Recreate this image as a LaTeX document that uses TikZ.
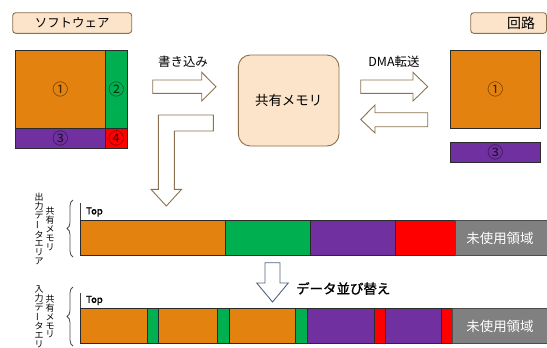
\documentclass[tikz,border=0pt]{standalone}
\usepackage{fontspec}
\setmainfont{Noto Sans CJK JP}
\newfontfamily\cjkbold{Noto Sans CJK JP}[FakeBold=1.2]
\usetikzlibrary{decorations.pathreplacing}
\definecolor{orng}{HTML}{E3820F}
\definecolor{grn}{HTML}{00B050}
\definecolor{prpl}{HTML}{7030A0}
\definecolor{rd}{HTML}{FF0000}
\definecolor{gry}{HTML}{808080}
\definecolor{peach}{HTML}{FCE4CA}
\definecolor{brn}{HTML}{8C6E4A}
\definecolor{arrbrn}{HTML}{8B7352}
\definecolor{arrblu}{HTML}{52657F}
\definecolor{edge}{HTML}{2A2A2A}
\tikzset{
  blk/.style={draw=edge, line width=0.9bp},
  lbl/.style={draw=brn, fill=peach, line width=0.9bp, rounded corners=3bp},
  bigarrow/.style={draw=arrbrn, fill=white, line width=0.9bp},
  num/.style={font=\fontsize{16}{17}\selectfont, text=black, text opacity=0.7, inner sep=0},
  txt/.style={font=\fontsize{12.5}{14}\selectfont, inner sep=0},
  vtxt/.style={font=\fontsize{9}{9}\selectfont, align=center, inner sep=0},
  toplbl/.style={font=\cjkbold\fontsize{9.5}{10}\selectfont, anchor=west, inner sep=0},
  unused/.style={font=\fontsize{13.5}{15}\selectfont, text=white, inner sep=0},
  brc/.style={decorate, decoration={brace, amplitude=6bp}, draw=black!70, line width=0.8bp}
}
\newcommand{\chouon}{\rotatebox[origin=c]{90}{ー}}
\begin{document}
\begin{tikzpicture}[x=1bp,y=-1bp]
\useasboundingbox (0,0) rectangle (547,347);
% labels
\draw[lbl] (12.7,12.7) rectangle (131.7,33.3);
\node[txt] (sw) at (72.2,23) {ソフトウェア};
\draw[lbl] (470.7,12.7) rectangle (546.5,33.3);
\node[txt, font=\fontsize{14}{15}\selectfont] (hw) at (521,23) {回路};
% software memory block
\draw[blk, fill=orng] (15.7,50) rectangle (105,128);
\draw[blk, fill=grn] (105,50) rectangle (127.7,128);
\draw[blk, fill=prpl] (15.7,128) rectangle (105,148.3);
\draw[blk, fill=rd] (105,128) rectangle (127.7,148.3);
\node[num] (s1) at (60.3,89) {①};
\node[num] (s2) at (116.3,89) {②};
\node[num] (s3) at (60.3,138.2) {③};
\node[num] (s4) at (116.3,138.2) {④};
% circuit memory block
\draw[blk, fill=orng] (450,50) rectangle (540.7,128.3);
\draw[blk, fill=prpl] (450,142.3) rectangle (540.7,162.7);
\node[num] (c1) at (495.3,89) {①};
\node[num] (c3) at (495.3,152.5) {③};
% shared memory
\draw[lbl, rounded corners=12bp, fill=peach] (238.3,55) rectangle (339,146);
\node[txt, font=\fontsize{13.5}{15}\selectfont] (sm) at (288.7,100.5) {共有メモリ};
% write arrow
\node[txt] (wr) at (183,62) {書き込み};
\draw[bigarrow] (152.7,80) -- (201.7,80) -- (201.7,72.3) -- (216,86.7) -- (201.7,101) -- (201.7,93.3) -- (152.7,93.3) -- cycle;
% DMA arrows
\node[txt] (dma) at (394,62) {DMA転送};
\draw[bigarrow] (360.7,80) -- (413,80) -- (413,72.3) -- (427.7,86.7) -- (413,101) -- (413,93.3) -- (360.7,93.3) -- cycle;
\draw[bigarrow] (360.7,119.5) -- (375,105) -- (375,112.7) -- (427.7,112.7) -- (427.7,126.7) -- (375,126.7) -- (375,133) -- cycle;
% L-shaped arrow
\draw[bigarrow] (158.3,115) -- (213.3,115) -- (213.3,131) -- (174.3,131) -- (174.3,189.3) -- (181.6,189.3) -- (166.3,206) -- (151,189.3) -- (158.3,189.3) -- cycle;
% output bar
\draw[line width=0.9bp, draw=black!75] (80,203) -- (80,255);
\node[toplbl] (t1) at (86,212) {Top};
\draw[blk, fill=orng] (80,220.7) rectangle (225,255);
\draw[blk, fill=grn] (225,220.7) rectangle (310,255);
\draw[blk, fill=prpl] (310,220.7) rectangle (395,255);
\draw[blk, fill=rd] (395,220.7) rectangle (455,255);
\draw[blk, draw=black!70, fill=gry] (455,220.7) rectangle (549,255);
\node[unused] (u1) at (500,238) {未使用領域};
\draw[brc] (73,257) -- (73,200);
\node[vtxt] (v1) at (39,229) {出\\力\\デ\\\chouon\\タ\\エ\\リ\\ア};
\node[vtxt] (v2) at (50,229) {共\\有\\メ\\モ\\リ};
% sort arrow
\draw[draw=arrblu, fill=white, line width=0.9bp] (265,262.7) -- (280,262.7) -- (280,283) -- (288.3,283) -- (272.5,302) -- (256.7,283) -- (265,283) -- cycle;
\node[font=\cjkbold\fontsize{13.5}{15}\selectfont, anchor=west, inner sep=0] (sort) at (296,288.5) {データ並び替え};
% input bar
\draw[line width=0.9bp, draw=black!75] (80,293) -- (80,343.3);
\node[toplbl] (t2) at (86,300.5) {Top};
\draw[blk, fill=orng] (80,308.3) rectangle (147.3,343.3);
\draw[blk, fill=grn] (147.3,308.3) rectangle (158.3,343.3);
\draw[blk, fill=orng] (158.3,308.3) rectangle (217.3,343.3);
\draw[blk, fill=grn] (217.3,308.3) rectangle (229,343.3);
\draw[blk, fill=orng] (229,308.3) rectangle (295.7,343.3);
\draw[blk, fill=grn] (295.7,308.3) rectangle (307.3,343.3);
\draw[blk, fill=prpl] (307.3,308.3) rectangle (374.7,343.3);
\draw[blk, fill=rd] (374.7,308.3) rectangle (385.3,343.3);
\draw[blk, fill=prpl] (385.3,308.3) rectangle (441.7,343.3);
\draw[blk, fill=rd] (441.7,308.3) rectangle (452.7,343.3);
\draw[blk, draw=black!70, fill=gry] (452.7,308.3) rectangle (549,343.3);
\node[unused] (u2) at (500,326) {未使用領域};
\draw[brc] (73,346) -- (73,287);
\node[vtxt, anchor=north] (v3) at (39,285) {入\\力\\デ\\\chouon\\タ\\エ\\リ\\ア};
\node[vtxt] (v4) at (50,316.5) {共\\有\\メ\\モ\\リ};
\end{tikzpicture}
\end{document}
